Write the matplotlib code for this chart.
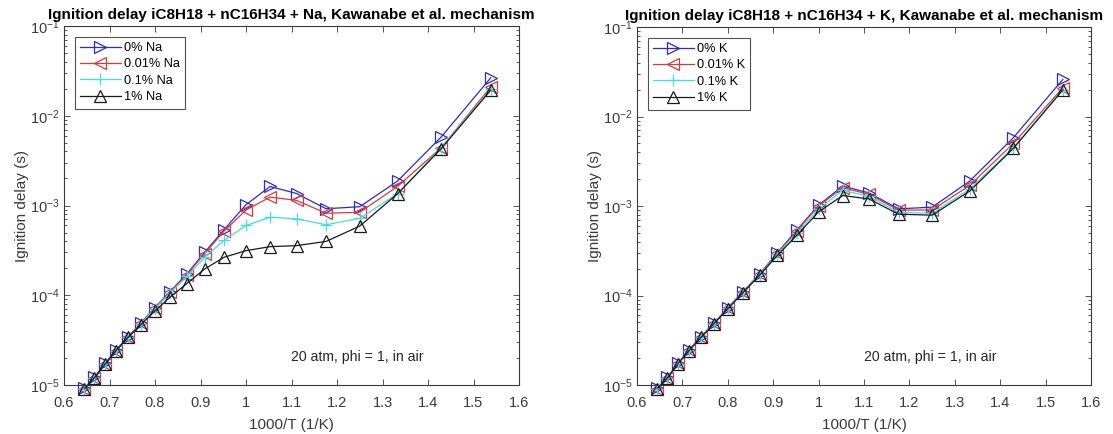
import matplotlib
matplotlib.use("Agg")
import matplotlib.pyplot as plt
from matplotlib.ticker import LogLocator, NullFormatter, FixedLocator

plt.rcParams['font.family'] = ['Liberation Sans', 'DejaVu Sans']

inv_T = [0.645, 0.667, 0.690, 0.714, 0.741, 0.769, 0.800, 0.833, 0.870, 0.909,
         0.952, 1.000, 1.053, 1.111, 1.176, 1.250, 1.333, 1.429, 1.538]

na_0 = [9.2e-6, 1.22e-5, 1.75e-5, 2.44e-5, 3.47e-5, 4.9e-5, 7.3e-5, 1.1e-4, 1.73e-4, 3.0e-4,
        5.4e-4, 1.02e-3, 1.63e-3, 1.36e-3, 9.2e-4, 9.7e-4, 1.87e-3, 5.8e-3, 2.65e-2]
na_001 = [9.1e-6, 1.2e-5, 1.72e-5, 2.4e-5, 3.42e-5, 4.85e-5, 7.2e-5, 1.08e-4, 1.7e-4, 2.9e-4,
          5.2e-4, 8.9e-4, 1.24e-3, 1.14e-3, 8.2e-4, 8.4e-4, 1.63e-3, 4.4e-3, 2.1e-2]
na_01 = [9.1e-6, 1.2e-5, 1.72e-5, 2.4e-5, 3.4e-5, 4.8e-5, 7.1e-5, 1.06e-4, 1.62e-4, 2.65e-4,
         4.1e-4, 6.0e-4, 7.4e-4, 7.1e-4, 6.1e-4, 7.2e-4, 1.35e-3, 4.4e-3, 1.98e-2]
na_1 = [9.1e-6, 1.2e-5, 1.7e-5, 2.4e-5, 3.4e-5, 4.7e-5, 6.7e-5, 9.5e-5, 1.35e-4, 1.96e-4,
        2.65e-4, 3.14e-4, 3.48e-4, 3.57e-4, 3.98e-4, 5.9e-4, 1.35e-3, 4.3e-3, 1.93e-2]

k_0 = [9.2e-6, 1.22e-5, 1.75e-5, 2.44e-5, 3.47e-5, 4.9e-5, 7.3e-5, 1.1e-4, 1.73e-4, 3.0e-4,
       5.4e-4, 1.02e-3, 1.67e-3, 1.4e-3, 9.3e-4, 9.7e-4, 1.9e-3, 5.8e-3, 2.6e-2]
k_001 = [9.1e-6, 1.2e-5, 1.74e-5, 2.43e-5, 3.45e-5, 4.9e-5, 7.25e-5, 1.09e-4, 1.72e-4, 2.95e-4,
         5.3e-4, 1.0e-3, 1.6e-3, 1.35e-3, 9.0e-4, 9.0e-4, 1.7e-3, 5.0e-3, 2.1e-2]
k_01 = [9.1e-6, 1.2e-5, 1.73e-5, 2.42e-5, 3.43e-5, 4.85e-5, 7.2e-5, 1.08e-4, 1.7e-4, 2.9e-4,
        5.0e-4, 9.2e-4, 1.5e-3, 1.28e-3, 8.5e-4, 8.3e-4, 1.55e-3, 4.5e-3, 2.0e-2]
k_1 = [9.1e-6, 1.2e-5, 1.72e-5, 2.4e-5, 3.4e-5, 4.8e-5, 7.1e-5, 1.07e-4, 1.68e-4, 2.8e-4,
       4.7e-4, 8.6e-4, 1.31e-3, 1.2e-3, 8.1e-4, 7.9e-4, 1.47e-3, 4.4e-3, 1.98e-2]

na_labels = ['0% Na', '0.01% Na', '0.1% Na', '1% Na']
k_labels = ['0% K', '0.01% K', '0.1% K', '1% K']
titles = ['Ignition delay iC8H18 + nC16H34 + Na, Kawanabe et al. mechanism',
          'Ignition delay iC8H18 + nC16H34 + K, Kawanabe et al. mechanism']
xticks = [0.6, 0.7, 0.8, 0.9, 1.0, 1.1, 1.2, 1.3, 1.4, 1.5, 1.6]
xticklabels = ['0.6', '0.7', '0.8', '0.9', '1', '1.1', '1.2', '1.3', '1.4', '1.5', '1.6']

colors = ['#2a2ad0', '#d83a3a', '#3fe0e0', '#1a1a1a']
markers = ['>', '<', '+', '^']

fig = plt.figure(figsize=(11.13, 4.34), dpi=100)
W, H = 1113, 434
axes_px = [(64, 26, 519, 385), (637, 27, 1091, 385)]

datasets = [([na_0, na_001, na_01, na_1], na_labels),
            ([k_0, k_001, k_01, k_1], k_labels)]

for i, ((series, labels), (x0, y0, x1, y1)) in enumerate(zip(datasets, axes_px)):
    ax = fig.add_axes([x0 / W, 1 - y1 / H, (x1 - x0) / W, (y1 - y0) / H])
    for s, lab, c, m in zip(series, labels, colors, markers):
        ax.plot(inv_T, s, color=c, marker=m, markersize=8, markerfacecolor='none',
                markeredgecolor=c, markeredgewidth=0.9, linewidth=0.9, label=lab,
                clip_on=False)
    ax.set_yscale('log')
    ax.set_xlim(0.6, 1.6)
    ax.set_ylim(1e-5, 1e-1)
    ax.xaxis.set_major_locator(FixedLocator(xticks))
    ax.set_xticklabels(xticklabels)
    ax.yaxis.set_major_locator(LogLocator(base=10, numticks=10))
    ax.yaxis.set_minor_locator(LogLocator(base=10, subs=range(2, 10), numticks=20))
    ax.yaxis.set_minor_formatter(NullFormatter())
    ax.tick_params(which='both', direction='in', top=True, right=True, labelsize=10.5,
                   colors='#3a3a3a', width=0.6)
    ax.tick_params(which='major', length=4)
    ax.tick_params(axis='x', which='major', pad=8)
    ax.tick_params(axis='y', which='major', pad=3)
    ax.tick_params(which='minor', length=2.5)
    for sp in ax.spines.values():
        sp.set_linewidth(0.8)
        sp.set_color('#3a3a3a')
    ax.set_xlabel('1000/T (1/K)', fontsize=11, color='#3a3a3a', labelpad=6)
    ax.set_ylabel('Ignition delay (s)', fontsize=11, color='#3a3a3a', labelpad=1)
    ax.set_title(titles[i], fontsize=11, fontweight='bold', pad=5)
    ax.text(1.245, 2.05e-5, '20 atm, phi = 1, in air', fontsize=10.2, ha='center',
            va='center', color='#262626')
    leg = ax.legend(loc='upper left', fontsize=9.2, frameon=True, fancybox=False,
                    edgecolor='#262626', borderpad=0.4, labelspacing=0.35,
                    handlelength=3.2, handletextpad=0.25, borderaxespad=0.85)
    leg.get_frame().set_linewidth(0.8)

fig.savefig('out.png', dpi=100)
